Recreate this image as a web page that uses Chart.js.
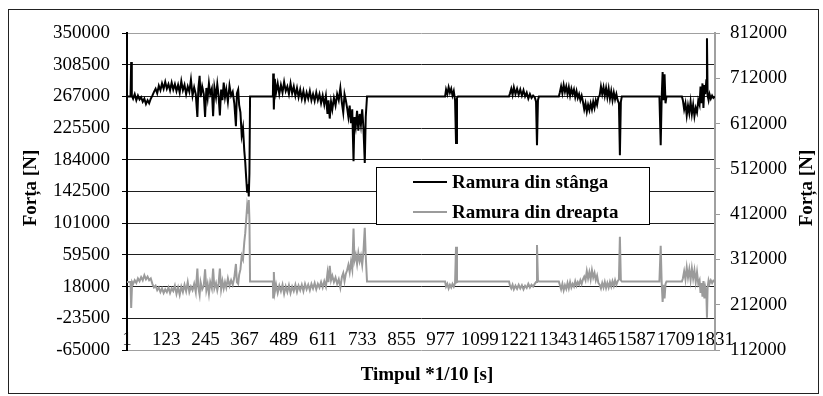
<!DOCTYPE html>
<html>
<head>
<meta charset="utf-8">
<script src="https://cdn.jsdelivr.net/npm/chart.js@4/dist/chart.umd.min.js"></script>
<style>
  html, body { margin: 0; padding: 0; background: #fff; }
  #wrap { width: 823px; height: 396px; }
</style>
</head>
<body>
<div id="wrap"><canvas id="chart" width="823" height="396"></canvas></div>
<script>
// ---------------------------------------------------------------------------
// Data
// ---------------------------------------------------------------------------

const timeTicks = [1, 123, 245, 367, 489, 611, 733, 855, 977, 1099, 1221, 1343, 1465, 1587, 1709, 1831];
const leftTicks = [-65000, -23500, 18000, 59500, 101000, 142500, 184000, 225500, 267000, 308500, 350000];
const rightTicks = [112000, 212000, 312000, 412000, 512000, 612000, 712000, 812000];

// Ramura din stânga (left axis)
const leftTime = [
  1, 12, 14, 16, 20, 25, 30, 35, 40, 45, 50, 55, 60, 65, 70, 75, 80, 85, 90, 95,
  100, 105, 110, 115, 120, 125, 130, 135, 140, 145, 150, 155, 160, 165, 170, 175, 180, 185, 190, 195,
  200, 205, 210, 215, 220, 223, 227, 230, 235, 240, 244, 248, 252, 256, 260, 265, 269, 273, 278, 282,
  286, 290, 294, 298, 302, 306, 310, 315, 320, 325, 330, 335, 340, 343, 347, 350, 354, 358, 362, 366,
  369, 372, 375, 378, 380, 382, 384, 455, 456, 458, 461, 465, 470, 475, 480, 485, 490, 495, 500, 505,
  510, 515, 520, 525, 530, 535, 540, 545, 550, 555, 560, 565, 570, 575, 580, 585, 590, 595, 600, 605,
  610, 615, 620, 625, 628, 632, 636, 640, 645, 650, 655, 660, 665, 670, 674, 678, 682, 686, 690, 694,
  698, 702, 706, 709, 713, 717, 721, 725, 729, 733, 737, 741, 744, 748, 991, 994, 998, 1002, 1006, 1010,
  1014, 1018, 1022, 1025, 1028, 1031, 1190, 1193, 1197, 1201, 1205, 1210, 1215, 1220, 1225, 1230, 1235, 1240, 1245, 1250,
  1255, 1260, 1265, 1270, 1274, 1277, 1280, 1283, 1345, 1348, 1352, 1356, 1360, 1364, 1368, 1372, 1376, 1380, 1384, 1388,
  1392, 1396, 1400, 1404, 1408, 1412, 1416, 1420, 1424, 1428, 1432, 1436, 1440, 1444, 1448, 1452, 1456, 1460, 1464, 1468,
  1472, 1476, 1480, 1484, 1488, 1492, 1496, 1500, 1504, 1508, 1512, 1516, 1520, 1524, 1528, 1532, 1535, 1538, 1541, 1658,
  1662, 1665, 1668, 1671, 1674, 1677, 1680, 1728, 1731, 1735, 1739, 1743, 1747, 1751, 1755, 1759, 1763, 1767, 1771, 1775,
  1779, 1783, 1786, 1789, 1792, 1795, 1798, 1801, 1804, 1806, 1808, 1811, 1814, 1818, 1822, 1826, 1831
];
const leftForce = [
  267000, 267000, 312000, 268000, 264000, 270000, 262000, 268000, 263000, 266000, 260000, 264000, 257000, 262000, 258000, 264000, 268000, 273000, 277000, 271000,
  281000, 275000, 284000, 277000, 286000, 277000, 283000, 275000, 285000, 276000, 283000, 274000, 282000, 272000, 287000, 275000, 282000, 270000, 280000, 273000,
  289000, 268000, 279000, 270000, 240000, 277000, 294000, 266000, 280000, 270000, 240000, 278000, 265000, 284000, 270000, 277000, 241000, 279000, 266000, 283000,
  268000, 242000, 276000, 262000, 285000, 266000, 276000, 260000, 281000, 268000, 273000, 258000, 228000, 271000, 276000, 256000, 246000, 216000, 226000, 196000,
  181000, 160000, 141000, 152000, 136000, 166000, 267000, 267000, 297000, 250000, 290000, 272000, 284000, 270000, 282000, 272000, 286000, 274000, 280000, 270000,
  284000, 271000, 280000, 268000, 278000, 266000, 276000, 264000, 274000, 262000, 272000, 264000, 274000, 262000, 270000, 261000, 272000, 262000, 270000, 258000,
  268000, 256000, 268000, 244000, 262000, 238000, 260000, 250000, 265000, 255000, 270000, 262000, 278000, 258000, 246000, 270000, 262000, 252000, 240000, 255000,
  232000, 250000, 182000, 240000, 228000, 248000, 222000, 244000, 230000, 250000, 225000, 180000, 240000, 267000, 267000, 276000, 270000, 279000, 272000, 277000,
  268000, 274000, 262000, 206000, 265000, 267000, 267000, 271000, 277000, 269000, 279000, 270000, 277000, 269000, 276000, 268000, 275000, 267000, 272000, 264000,
  270000, 265000, 268000, 266000, 260000, 203000, 262000, 267000, 267000, 272000, 280000, 271000, 282000, 273000, 280000, 270000, 279000, 268000, 277000, 270000,
  276000, 266000, 274000, 265000, 270000, 262000, 268000, 260000, 250000, 258000, 247000, 256000, 249000, 258000, 250000, 260000, 252000, 262000, 256000, 266000,
  268000, 280000, 270000, 279000, 268000, 278000, 266000, 277000, 264000, 274000, 262000, 272000, 263000, 270000, 262000, 258000, 190000, 260000, 267000, 267000,
  203000, 265000, 299000, 262000, 296000, 258000, 267000, 267000, 262000, 250000, 258000, 242000, 255000, 245000, 260000, 244000, 256000, 241000, 252000, 246000,
  262000, 256000, 280000, 258000, 284000, 252000, 282000, 270000, 288000, 343000, 268000, 262000, 270000, 264000, 268000, 265000, 267000
];

// Ramura din dreapta (right axis)
const rightTime = [
  1, 12, 14, 17, 20, 25, 30, 35, 40, 45, 50, 55, 60, 65, 70, 75, 80, 85, 90, 95,
  100, 105, 110, 115, 120, 125, 130, 135, 140, 145, 150, 155, 160, 165, 170, 175, 180, 185, 190, 195,
  200, 205, 210, 215, 220, 223, 227, 230, 235, 240, 244, 248, 252, 256, 260, 265, 269, 273, 278, 282,
  286, 290, 294, 298, 302, 306, 310, 315, 320, 325, 330, 335, 340, 343, 347, 350, 354, 358, 362, 366,
  369, 372, 375, 378, 380, 382, 384, 455, 456, 458, 461, 465, 470, 475, 480, 485, 490, 495, 500, 505,
  510, 515, 520, 525, 530, 535, 540, 545, 550, 555, 560, 565, 570, 575, 580, 585, 590, 595, 600, 605,
  610, 615, 620, 625, 628, 632, 636, 640, 645, 650, 655, 660, 665, 670, 674, 678, 682, 686, 690, 694,
  698, 702, 706, 709, 713, 717, 721, 725, 729, 733, 737, 741, 744, 748, 991, 994, 998, 1002, 1006, 1010,
  1014, 1018, 1022, 1025, 1028, 1031, 1190, 1193, 1197, 1201, 1205, 1210, 1215, 1220, 1225, 1230, 1235, 1240, 1245, 1250,
  1255, 1260, 1265, 1270, 1274, 1277, 1280, 1283, 1345, 1348, 1352, 1356, 1360, 1364, 1368, 1372, 1376, 1380, 1384, 1388,
  1392, 1396, 1400, 1404, 1408, 1412, 1416, 1420, 1424, 1428, 1432, 1436, 1440, 1444, 1448, 1452, 1456, 1460, 1464, 1468,
  1472, 1476, 1480, 1484, 1488, 1492, 1496, 1500, 1504, 1508, 1512, 1516, 1520, 1524, 1528, 1532, 1535, 1538, 1541, 1658,
  1662, 1665, 1668, 1671, 1674, 1677, 1680, 1728, 1731, 1735, 1739, 1743, 1747, 1751, 1755, 1759, 1763, 1767, 1771, 1775,
  1779, 1783, 1786, 1789, 1792, 1795, 1798, 1801, 1804, 1806, 1808, 1811, 1814, 1818, 1822, 1826, 1831
];
const rightForce = [
  262000, 262000, 205000, 262000, 258000, 266000, 260000, 270000, 264000, 273000, 266000, 277000, 268000, 274000, 266000, 270000, 258000, 250000, 254000, 244000,
  250000, 240000, 248000, 238000, 246000, 240000, 250000, 238000, 248000, 242000, 254000, 236000, 250000, 234000, 252000, 240000, 256000, 242000, 262000, 240000,
  252000, 244000, 258000, 240000, 292000, 250000, 234000, 262000, 246000, 254000, 290000, 244000, 258000, 236000, 262000, 248000, 292000, 248000, 260000, 244000,
  258000, 292000, 246000, 264000, 248000, 262000, 250000, 270000, 254000, 266000, 256000, 272000, 302000, 262000, 258000, 278000, 290000, 320000, 312000, 350000,
  370000, 400000, 430000, 415000, 443000, 400000, 263000, 263000, 228000, 284000, 240000, 256000, 238000, 254000, 242000, 256000, 236000, 252000, 240000, 255000,
  238000, 252000, 242000, 256000, 240000, 254000, 244000, 256000, 242000, 258000, 246000, 256000, 244000, 258000, 248000, 260000, 246000, 258000, 250000, 262000,
  250000, 264000, 252000, 282000, 262000, 298000, 266000, 276000, 262000, 272000, 258000, 268000, 250000, 274000, 282000, 264000, 280000, 288000, 300000, 284000,
  306000, 290000, 380000, 310000, 322000, 302000, 326000, 308000, 320000, 300000, 330000, 382000, 320000, 263000, 263000, 252000, 258000, 248000, 256000, 250000,
  258000, 252000, 260000, 340000, 262000, 263000, 263000, 254000, 248000, 256000, 246000, 254000, 247000, 256000, 248000, 255000, 246000, 254000, 249000, 258000,
  250000, 256000, 252000, 258000, 262000, 344000, 266000, 263000, 263000, 256000, 246000, 258000, 244000, 255000, 247000, 260000, 248000, 262000, 250000, 258000,
  252000, 264000, 254000, 262000, 256000, 266000, 258000, 268000, 274000, 266000, 286000, 270000, 284000, 268000, 288000, 272000, 282000, 266000, 276000, 260000,
  256000, 248000, 260000, 250000, 262000, 249000, 260000, 250000, 262000, 252000, 264000, 254000, 266000, 256000, 264000, 268000, 362000, 266000, 263000, 263000,
  342000, 262000, 218000, 256000, 226000, 258000, 263000, 263000, 270000, 286000, 268000, 294000, 272000, 290000, 266000, 292000, 270000, 288000, 262000, 284000,
  258000, 266000, 238000, 260000, 230000, 264000, 226000, 250000, 240000, 183000, 250000, 266000, 258000, 266000, 260000, 265000, 263000
];

const seriesNames = ["Ramura din stânga", "Ramura din dreapta"];
const seriesColors = ["#000000", "#9b9b9b"];

// ---------------------------------------------------------------------------
// Helpers
// ---------------------------------------------------------------------------

const FONT = "'Liberation Serif', 'Times New Roman', serif";

function toPoints(xs, ys) {
    return xs.map((x, i) => ({ x, y: ys[i] }));
}

function fixedTicks(list) {
    return (scale) => { scale.ticks = list.map((v) => ({ value: v })); };
}

function vText(ctx, text, x, y) {
    ctx.save();
    ctx.translate(x, y);
    ctx.rotate(-Math.PI / 2);
    ctx.textAlign = "center";
    ctx.textBaseline = "middle";
    ctx.fillText(text, 0, 0);
    ctx.restore();
}

// Titles, legend box and outer frame are drawn by hand (Excel-like layout)
const decor = {
    id: "decor",
    afterDatasetsDraw(chart) {
        const ctx = chart.ctx;
        ctx.save();
        // legend box inside the plot
        ctx.fillStyle = "#fff";
        ctx.fillRect(376, 167, 274, 58);
        ctx.strokeStyle = "#000";
        ctx.lineWidth = 1;
        ctx.strokeRect(376.5, 167.5, 273, 57);
        ctx.font = `bold 19px ${FONT}`;
        ctx.textBaseline = "middle";
        ctx.textAlign = "left";
        chart.data.datasets.forEach((ds, i) => {
            const y = 182 + i * 30;
            ctx.strokeStyle = ds.borderColor;
            ctx.lineWidth = 2;
            ctx.beginPath();
            ctx.moveTo(413, y);
            ctx.lineTo(447, y);
            ctx.stroke();
            ctx.fillStyle = "#000";
            ctx.fillText(ds.label, 452, y + 1);
        });
        ctx.restore();
    },
    afterDraw(chart) {
        const ctx = chart.ctx;
        ctx.save();
        ctx.fillStyle = "#000";
        ctx.font = `bold 19px ${FONT}`;
        vText(ctx, "Forța [N]", 31, 188);
        vText(ctx, "Forța [N]", 807, 188);
        ctx.textAlign = "center";
        ctx.textBaseline = "middle";
        ctx.fillText("Timpul *1/10 [s]", 427, 375);
        // outer frame
        ctx.strokeStyle = "#222";
        ctx.lineWidth = 1;
        ctx.strokeRect(8.5, 9.5, 810, 384);
        ctx.restore();
    },
};

// ---------------------------------------------------------------------------
// Chart
// ---------------------------------------------------------------------------

const tickFont = { family: FONT, size: 19 };

new Chart(document.getElementById("chart"), {
    type: "line",
    data: {
        datasets: [
            {
                label: seriesNames[0],
                data: toPoints(leftTime, leftForce),
                yAxisID: "y",
                borderColor: seriesColors[0],
                borderWidth: 2,
                pointRadius: 0,
                tension: 0,
            },
            {
                label: seriesNames[1],
                data: toPoints(rightTime, rightForce),
                yAxisID: "y2",
                borderColor: seriesColors[1],
                borderWidth: 2,
                pointRadius: 0,
                tension: 0,
            },
        ],
    },
    options: {
        responsive: false,
        animation: false,
        devicePixelRatio: 1,
        layout: { padding: { top: 33, bottom: 46, left: 0, right: 0 } },
        plugins: { legend: { display: false }, tooltip: { enabled: false } },
        scales: {
            x: {
                type: "linear",
                min: 1,
                max: 1831,
                position: { y: -23500 },
                afterBuildTicks: fixedTicks(timeTicks),
                grid: { display: false },
                border: { display: false },
                ticks: {
                    autoSkip: false,
                    maxRotation: 0,
                    padding: 2,
                    color: "#000",
                    font: tickFont,
                    callback: (v) => String(v),
                },
            },
            y: {
                position: "left",
                min: -65000,
                max: 350000,
                afterBuildTicks: fixedTicks(leftTicks),
                afterFit: (s) => { s.width = 127; },
                grid: {
                    color: (c) => (c.tick && (c.tick.value === 350000 || c.tick.value === -65000)) ? "#a0a0a0" : "#1e1e1e",
                    tickColor: "#000",
                    tickLength: 5,
                    lineWidth: 1,
                },
                border: { color: "#000", width: 2 },
                ticks: { padding: 12, color: "#000", font: tickFont, callback: (v) => String(v) },
            },
            y2: {
                position: "right",
                min: 112000,
                max: 812000,
                afterBuildTicks: fixedTicks(rightTicks),
                afterFit: (s) => { s.width = 108; },
                grid: { drawOnChartArea: false, tickColor: "#9b9b9b", tickLength: 5 },
                border: { color: "#a0a0a0", width: 2 },
                ticks: { padding: 10, color: "#000", font: tickFont, callback: (v) => String(v) },
            },
        },
    },
    plugins: [decor],
});
</script>
</body>
</html>
